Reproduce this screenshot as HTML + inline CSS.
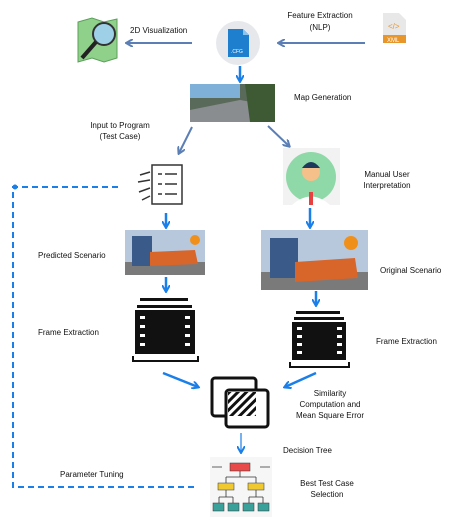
<!DOCTYPE html>
<html><head><meta charset="utf-8"><style>
html,body{margin:0;padding:0;background:#fff;}
svg{display:block;}
text{font-family:"Liberation Sans",sans-serif;font-size:8px;fill:#111;}
</style></head><body>
<svg width="474" height="530" viewBox="0 0 474 530" xmlns="http://www.w3.org/2000/svg">
<defs>
<marker id="ag" markerWidth="8" markerHeight="8" refX="6" refY="4" orient="auto" markerUnits="userSpaceOnUse"><path d="M0,0 L7,4 L0,8" fill="none" stroke="#5b7fb5" stroke-width="2"/></marker>
<marker id="ab" markerWidth="8" markerHeight="8" refX="6" refY="4" orient="auto" markerUnits="userSpaceOnUse"><path d="M0,0 L7,4 L0,8" fill="none" stroke="#1a7fe8" stroke-width="2"/></marker>
<pattern id="hatch" width="6" height="6" patternUnits="userSpaceOnUse" patternTransform="rotate(45)"><rect width="3" height="6" fill="#111"/></pattern>
</defs>

<!-- map icon -->
<path d="M78,22 L92,18 L104,22 L117,19 L117,58 L104,62 L92,58 L78,62Z" fill="#8fd08a" stroke="#5aa05a"/>
<circle cx="104" cy="34" r="11" fill="#9ed0e8" stroke="#333" stroke-width="2"/>
<line x1="96" y1="42" x2="82" y2="58" stroke="#222" stroke-width="4"/>
<text x="130" y="33">2D Visualization</text>
<line x1="192" y1="43" x2="127" y2="43" stroke="#5b7fb5" stroke-width="2" marker-end="url(#ag)"/>

<!-- cfg -->
<circle cx="238" cy="43" r="22" fill="#e6e8ec"/>
<path d="M228,29 L243,29 L249,35 L249,57 L228,57Z" fill="#1e7fcf"/>
<path d="M243,29 L249,35 L243,35Z" fill="#8cc4f0"/>
<text x="231" y="53" style="font-size:5px;fill:#fff">.CFG</text>
<line x1="365" y1="43" x2="279" y2="43" stroke="#5b7fb5" stroke-width="2" marker-end="url(#ag)"/>
<text x="320" y="18" text-anchor="middle">Feature Extraction</text>
<text x="320" y="30" text-anchor="middle">(NLP)</text>

<!-- xml -->
<path d="M383,13 L399,13 L406,20 L406,43 L383,43Z" fill="#e8e8e8"/>
<text x="388" y="29" style="font-size:8px;fill:#e8962a">&lt;/&gt;</text>
<rect x="383" y="35" width="23" height="8" fill="#e8962a"/>
<text x="387" y="42" style="font-size:6px;fill:#fff">XML</text>

<line x1="240" y1="66" x2="240" y2="81" stroke="#1a7fe8" stroke-width="2.5" marker-end="url(#ab)"/>

<!-- road -->
<rect x="190" y="84" width="85" height="38" fill="#5a6a5a"/>
<rect x="190" y="84" width="50" height="14" fill="#7fb0d8"/>
<path d="M190,110 L240,100 L275,106 L275,122 L190,122Z" fill="#8a8d90"/>
<path d="M245,84 L275,84 L275,122 L250,122Z" fill="#3d5a35"/>
<text x="294" y="100">Map Generation</text>

<text x="120" y="128" text-anchor="middle">Input to Program</text>
<text x="120" y="139" text-anchor="middle">(Test Case)</text>
<line x1="192" y1="127" x2="179" y2="153" stroke="#5b7fb5" stroke-width="2" marker-end="url(#ag)"/>
<line x1="268" y1="126" x2="289" y2="146" stroke="#5b7fb5" stroke-width="2" marker-end="url(#ag)"/>

<!-- checklist -->
<rect x="152" y="165" width="30" height="39" fill="#fff" stroke="#333" stroke-width="1.5"/>
<g stroke="#333" stroke-width="1.5"><line x1="158" y1="174" x2="162" y2="174"/><line x1="165" y1="174" x2="177" y2="174"/><line x1="158" y1="184" x2="162" y2="184"/><line x1="165" y1="184" x2="177" y2="184"/><line x1="158" y1="194" x2="162" y2="194"/><line x1="165" y1="194" x2="177" y2="194"/>
<path d="M150,172 L140,175 M150,180 L138,182 M150,188 L139,192 M150,196 L142,200" fill="none"/></g>

<!-- person -->
<rect x="283" y="148" width="57" height="57" fill="#f2f2f2"/>
<circle cx="311" cy="177" r="25" fill="#8fd8a8"/>
<path d="M292,205 Q311,188 330,205Z" fill="#fff"/>
<circle cx="311" cy="172" r="9" fill="#f5c08a"/>
<path d="M302,168 Q311,156 320,168Z" fill="#1e3a5a"/>
<rect x="309" y="192" width="4" height="13" fill="#e84040"/>
<text x="387" y="177" text-anchor="middle">Manual User</text>
<text x="387" y="188" text-anchor="middle">Interpretation</text>

<!-- dashed feedback -->
<path d="M118,187 L13,187 L13,487 L198,487" fill="none" stroke="#1a7fe8" stroke-width="2" stroke-dasharray="6,4"/>
<circle cx="15" cy="187" r="2.5" fill="#1a7fe8"/>

<!-- scenarios -->
<line x1="166" y1="213" x2="166" y2="227" stroke="#1a7fe8" stroke-width="2.5" marker-end="url(#ab)"/>
<rect x="125" y="230" width="80" height="45" fill="#b8c8dc"/>
<rect x="125" y="262" width="80" height="13" fill="#7a7a7a"/>
<rect x="132" y="236" width="20" height="30" fill="#3a5a8a"/>
<path d="M150,252 L195,250 L198,264 L150,266Z" fill="#d8652a"/>
<circle cx="195" cy="240" r="5" fill="#f0901a"/>
<text x="38" y="258">Predicted Scenario</text>

<line x1="310" y1="208" x2="310" y2="227" stroke="#1a7fe8" stroke-width="2.5" marker-end="url(#ab)"/>
<rect x="261" y="230" width="107" height="60" fill="#b8c8dc"/>
<rect x="261" y="272" width="107" height="18" fill="#7a7a7a"/>
<rect x="270" y="238" width="28" height="40" fill="#3a5a8a"/>
<path d="M295,262 L355,258 L358,278 L295,282Z" fill="#d8652a"/>
<circle cx="351" cy="243" r="7" fill="#f0901a"/>
<text x="380" y="273">Original Scenario</text>

<!-- films -->
<line x1="166" y1="277" x2="166" y2="291" stroke="#1a7fe8" stroke-width="2.5" marker-end="url(#ab)"/>
<g>
<rect x="140" y="298" width="48" height="3" fill="#111"/>
<rect x="137" y="305" width="55" height="3" fill="#111"/>
<rect x="135" y="310" width="60" height="44" fill="#111"/>
<path d="M133,356 L133,361 L198,361 L198,356" fill="none" stroke="#111" stroke-width="2"/>
<g fill="#fff"><rect x="140" y="316" width="5" height="3"/><rect x="140" y="325" width="5" height="3"/><rect x="140" y="334" width="5" height="3"/><rect x="140" y="343" width="5" height="3"/><rect x="185" y="316" width="5" height="3"/><rect x="185" y="325" width="5" height="3"/><rect x="185" y="334" width="5" height="3"/><rect x="185" y="343" width="5" height="3"/></g>
</g>
<text x="38" y="335">Frame Extraction</text>

<path d="M316,291 L316,305" stroke="#1a7fe8" stroke-width="2.5" marker-end="url(#ab)"/>
<g>
<rect x="296" y="311" width="44" height="3" fill="#111"/>
<rect x="294" y="317" width="50" height="3" fill="#111"/>
<rect x="292" y="322" width="54" height="38" fill="#111"/>
<path d="M290,362 L290,367 L349,367 L349,362" fill="none" stroke="#111" stroke-width="2"/>
<g fill="#fff"><rect x="297" y="327" width="5" height="3"/><rect x="297" y="335" width="5" height="3"/><rect x="297" y="343" width="5" height="3"/><rect x="297" y="351" width="5" height="3"/><rect x="337" y="327" width="5" height="3"/><rect x="337" y="335" width="5" height="3"/><rect x="337" y="343" width="5" height="3"/><rect x="337" y="351" width="5" height="3"/></g>
</g>
<text x="376" y="344">Frame Extraction</text>

<line x1="163" y1="373" x2="198" y2="387" stroke="#1a7fe8" stroke-width="2.5" marker-end="url(#ab)"/>
<line x1="316" y1="373" x2="285" y2="387" stroke="#1a7fe8" stroke-width="2.5" marker-end="url(#ab)"/>

<!-- overlap icon -->
<rect x="212" y="378" width="44" height="38" rx="3" fill="#fff" stroke="#111" stroke-width="3"/>
<rect x="226" y="390" width="42" height="37" rx="3" fill="#fff" stroke="#111" stroke-width="3"/>
<rect x="228" y="392" width="28" height="24" fill="url(#hatch)"/>
<text x="330" y="396" text-anchor="middle">Similarity</text>
<text x="330" y="407" text-anchor="middle">Computation and</text>
<text x="330" y="418" text-anchor="middle">Mean Square Error</text>

<line x1="241" y1="433" x2="241" y2="452" stroke="#1a7fe8" stroke-width="1.2" marker-end="url(#ab)"/>
<text x="283" y="453">Decision Tree</text>

<!-- tree -->
<rect x="210" y="457" width="62" height="60" fill="#f6f6f6"/>
<g stroke="#333" stroke-width="0.8" fill="none">
<path d="M212,467 L222,467 M260,467 L270,467"/>
<path d="M240,471 L240,477 M226,477 L256,477 M226,477 L226,483 M256,477 L256,483"/>
<path d="M226,490 L226,497 M219,497 L233,497 M219,497 L219,503 M233,497 L233,503"/>
<path d="M256,490 L256,497 M249,497 L263,497 M249,497 L249,503 M263,497 L263,503"/>
</g>
<rect x="230" y="463" width="20" height="8" fill="#e84a4a" stroke="#333" stroke-width="0.5"/>
<rect x="218" y="483" width="16" height="7" fill="#f0c830" stroke="#333" stroke-width="0.5"/>
<rect x="248" y="483" width="16" height="7" fill="#f0c830" stroke="#333" stroke-width="0.5"/>
<g fill="#3aa09a" stroke="#333" stroke-width="0.5"><rect x="213" y="503" width="11" height="8"/><rect x="228" y="503" width="11" height="8"/><rect x="243" y="503" width="11" height="8"/><rect x="258" y="503" width="11" height="8"/></g>
<text x="60" y="477">Parameter Tuning</text>
<text x="327" y="486" text-anchor="middle">Best Test Case</text>
<text x="327" y="497" text-anchor="middle">Selection</text>
</svg>
</body></html>
